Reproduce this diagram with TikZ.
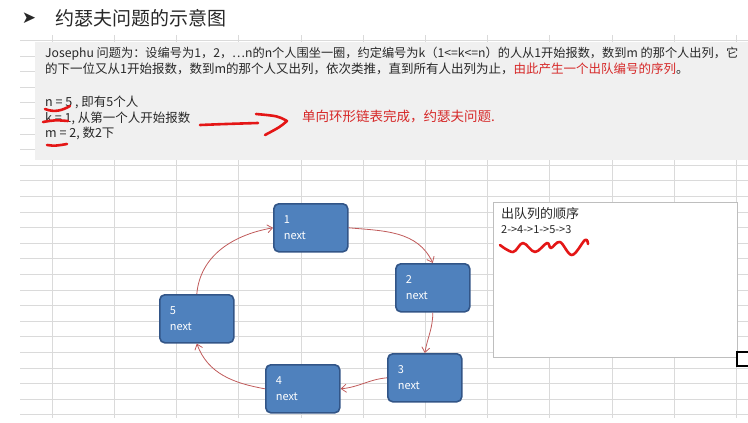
\documentclass[tikz,border=0pt]{standalone}
\usepackage{fontspec}
\setmainfont{Noto Sans CJK SC}
\newfontfamily\symfont{DejaVu Sans}
\usepackage{tikz}
\usetikzlibrary{arrows.meta, positioning, calc}
\definecolor{gridgray}{RGB}{218,218,218}
\definecolor{panelgray}{RGB}{240,240,240}
\definecolor{nodeblue}{RGB}{79,129,189}
\definecolor{nodeedge}{RGB}{50,85,135}
\definecolor{linkred}{RGB}{192,90,90}
\definecolor{markred}{RGB}{228,22,22}
\definecolor{textred}{RGB}{214,40,40}
\definecolor{textgray}{RGB}{40,40,40}
\definecolor{boxedge}{RGB}{190,190,190}
\tikzset{
  gridline/.style = {gridgray, line width=0.6pt},
  cellnode/.style = {draw=nodeedge, line width=1.6pt, fill=nodeblue,
                     rounded corners=5pt, minimum height=48pt, text width=54pt,
                     inner xsep=10pt, align=left, text=white,
                     font=\fontsize{11}{16}\selectfont},
  noteline/.style = {anchor=west, inner sep=0pt, text=textgray,
                     font=\fontsize{12.5}{14}\selectfont},
  listbox/.style  = {draw=boxedge, line width=0.8pt, fill=white, anchor=north west,
                     minimum width=244pt, minimum height=155pt},
  link/.style     = {-{Straight Barb[length=5pt,width=8pt]}, linkred, line width=0.8pt},
  scribble/.style = {markred, line width=2.6pt, line cap=round, line join=round},
}

\begin{document}
\begin{tikzpicture}[x=1pt, y=-1pt]
    \clip (0,0) rectangle (748,423);
    % --- sheet grid ---------------------------------------------------
    \foreach \gy in {0,...,24}
      \draw[gridline] (20,{40.2+15.6*\gy}) -- (748,{40.2+15.6*\gy});
    \foreach \gx in {0,...,11}
      \draw[gridline] ({52+62.2*\gx},35) -- ({52+62.2*\gx},418);
    % --- title --------------------------------------------------------
    \node[text=textgray, font=\symfont\fontsize{17}{19}\selectfont] (bullet) at (29,18) {➤};
    \node[noteline, font=\fontsize{19}{22}\selectfont] (title) at (55,18) {约瑟夫问题的示意图};
    % --- note panel ---------------------------------------------------
    \fill[panelgray] (35,42) rectangle (748,160);
    \node[noteline, font=\fontsize{12.2}{14}\selectfont] (rule1) at (45,54) {Josephu 问题为：设编号为1，2，…n的n个人围坐一圈，约定编号为k（1<=k<=n）的人从1开始报数，数到m 的那个人出列，它};
    \node[noteline] (rule2) at (45,69) {的下一位又从1开始报数，数到m的那个人又出列，依次类推，直到所有人出列为止，{\color{textred}由此产生一个出队编号的序列}。};
    \node[noteline] (valn) at (45,102) {n = 5 , 即有5个人};
    \node[noteline] (valk) at (45,118) {k = 1, 从第一个人开始报数};
    \node[noteline] (valm) at (45,133) {m = 2, 数2下};
    \node[noteline, text=textred, font=\fontsize{13.5}{16}\selectfont] (remark) at (302,116) {单向环形链表完成，约瑟夫问题.};
    % --- red marks ----------------------------------------------------
    \coordinate (tail) at (200,125);
    \coordinate (tip)  at (287,121);
    \draw[scribble] (tail) .. controls (225,124) .. (258,123);
    \draw[scribble] (256,114) .. controls (278,116) .. (tip) .. controls (280,127) .. (265,135);
    \draw[scribble] (45,109) .. controls (55,113) and (63,110) .. (70,106);
    \draw[scribble] (43,122) .. controls (55,120) .. (68,121);
    \draw[scribble] (47,145) .. controls (55,146) .. (67,144);
    % --- ring of persons ----------------------------------------------
    \node[cellnode, anchor=north west] (p1) at (273,203) {1\\next};
    \node[cellnode, anchor=north west] (p2) at (395,263) {2\\next};
    \node[cellnode, anchor=north west] (p3) at (387,353) {3\\next};
    \node[cellnode, anchor=north west] (p4) at (265,364) {4\\next};
    \node[cellnode, anchor=north west] (p5) at (159,294) {5\\next};
    \draw[link] (p1.east) to[out=-5, in=115] (p2.north);
    \draw[link] (p2.south) to[out=-90, in=80] (p3.north);
    \draw[link] (p3.west) to[out=185, in=5] (p4.east);
    \draw[link] (p4.west) to[out=170, in=-70] (p5.south);
    \draw[link] (p5.north) to[out=85, in=190] (p1.west);
    % --- output order -------------------------------------------------
    \node[listbox] (outbox) at (493,202) {};
    \node[noteline, font=\fontsize{13}{15}\selectfont] (outtitle) at (501,214) {出队列的顺序};
    \node[noteline, font=\fontsize{11}{13}\selectfont] (outseq) at (501,230) {2->4->1->5->3};
    \draw[scribble] plot[smooth, tension=0.6] coordinates {(500,245) (513,252) (523,243) (535,252) (547,243) (551,248) (560,242) (572,255) (585,240) (588,244)};
    \draw[line width=2.6pt] (748,352) -- (737,352) -- (737,366) -- (748,366);
\end{tikzpicture}
\end{document}
